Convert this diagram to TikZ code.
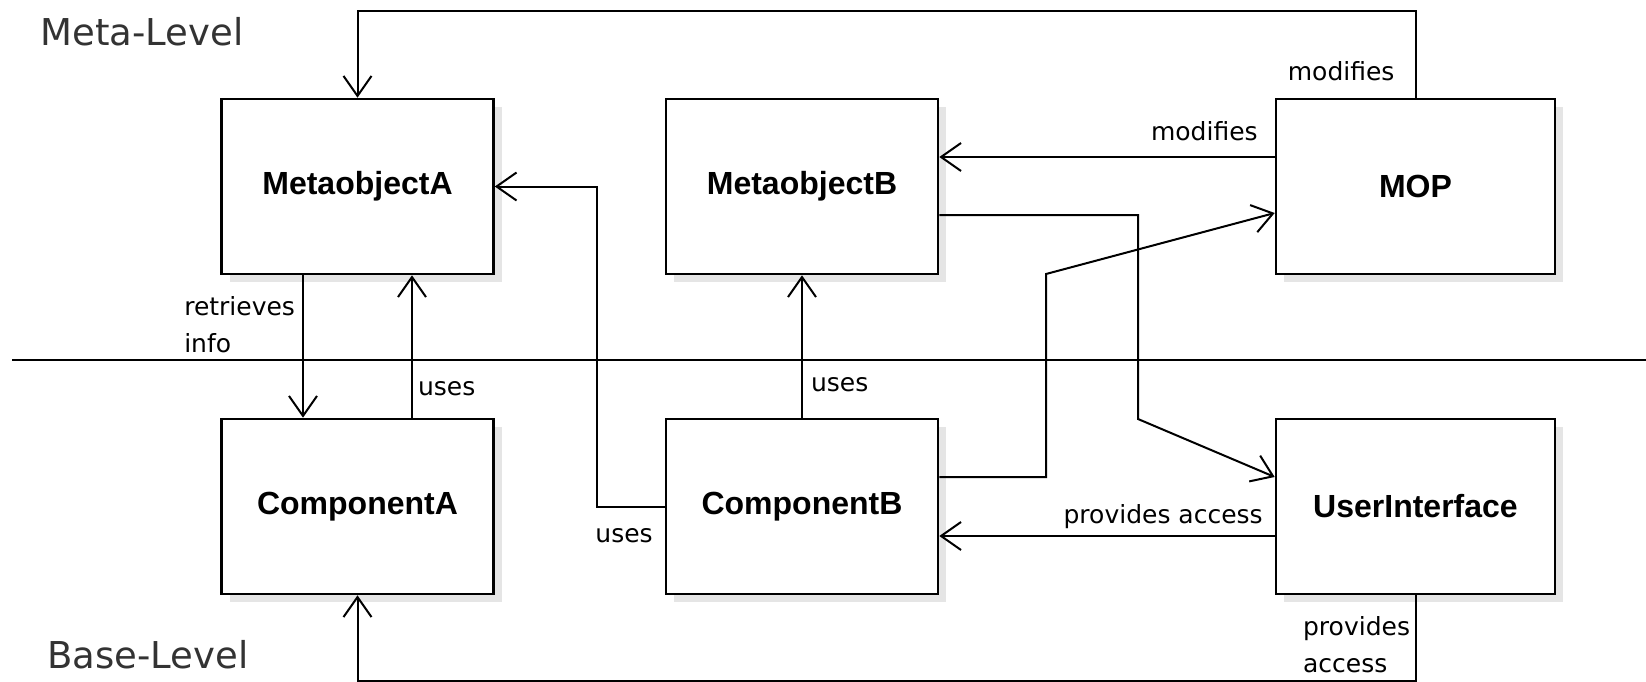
\documentclass[tikz,border=0pt]{standalone}
\usepackage{fontspec}
\setmainfont{DejaVu Sans}
\newfontfamily\boxfont{Liberation Sans}
\usepackage{tikz}
\usetikzlibrary{arrows.meta,shadows}
\tikzset{box/.style={draw,line width=1.3pt,fill=white,inner sep=0pt,
  minimum width=136pt,minimum height=87.5pt,
  drop shadow={shadow xshift=4pt,shadow yshift=-4pt,fill=black!20},
  font=\boxfont\bfseries\fontsize{16}{19}\selectfont}}
\tikzset{wide/.style={box,minimum width=139.5pt}}
\tikzset{link/.style={->,>={Straight Barb[length=10pt,width=14pt]},line width=1pt}}
\tikzset{lbl/.style={inner sep=0pt,font=\fontsize{12.5}{18.5}\selectfont}}
\tikzset{level/.style={inner sep=0pt,text=black!80,font=\fontsize{18.5}{22}\selectfont}}

\begin{document}
\begin{tikzpicture}[x=0.5pt,y=-0.5pt]
  \useasboundingbox (0,0) rectangle (1646,681);
  % levels
  \node[level,anchor=base west] (meta) at (40,45) {Meta-Level};
  \node[level,anchor=base west] (base) at (47,668) {Base-Level};
  \draw[line width=1pt] (12,360) -- (1646,360);
  % boxes
  \node[box] (metaA) at (357.5,186.5) {MetaobjectA};
  \node[box] (metaB) at (802,186.5) {MetaobjectB};
  \node[wide] (mop) at (1415.5,186.5) {MOP};
  \node[box] (compA) at (357.5,506.5) {ComponentA};
  \node[box] (compB) at (802,506.5) {ComponentB};
  \node[wide] (ui) at (1415.5,506.5) {UserInterface};
  % connectors
  \draw[link] (mop.north) -- node[lbl,pos=0,anchor=base east,xshift=-10pt,yshift=8.5pt] {modifies}
    ++(0,-87) -| (metaA.north);
  \draw[link] (mop.west |- 0,157) -- node[lbl,pos=0,anchor=base east,xshift=-8pt,yshift=8.5pt] {modifies}
    (metaB.east |- 0,157);
  \draw[link] (metaB.east |- 0,215) -| (1138,419) -- (ui.west |- 0,477);
  \draw[link] (compB.east |- 0,477) -| (1046,274) -- (mop.west |- 0,213);
  \draw[link] (ui.west |- 0,536) -- node[lbl,pos=0,anchor=base east,xshift=-5.5pt,yshift=6.5pt] {provides access}
    (compB.east |- 0,536);
  \draw[link] (ui.south) -- node[lbl,pos=0,anchor=north east,align=left,xshift=-2.25pt,yshift=-10pt] {provides\\access}
    ++(0,86) -| (compA.south);
  \draw[link] (compB.west) -- node[lbl,pos=0,anchor=base east,xshift=-5.5pt,yshift=-17.75pt] {uses}
    ++(-68,0) |- (metaA.east);
  \draw[link] (metaA.south -| 303,0) -- node[lbl,pos=0,anchor=north east,align=left,xshift=-3.5pt,yshift=-10pt] {retrieves\\info}
    (compA.north -| 303,0);
  \draw[link] (compA.north -| 412,0) -- node[lbl,pos=0,anchor=base west,xshift=2.5pt,yshift=11pt] {uses}
    (metaA.south -| 412,0);
  \draw[link] (compB.north) -- node[lbl,pos=0,anchor=base west,xshift=4pt,yshift=13pt] {uses}
    (metaB.south);
\end{tikzpicture}
\end{document}
